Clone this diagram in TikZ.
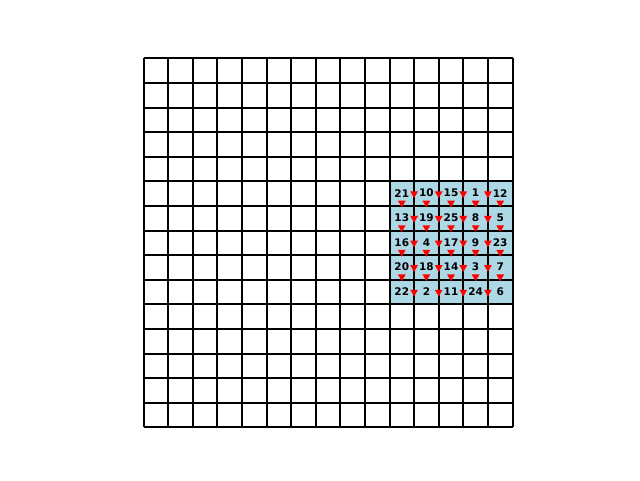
\documentclass[tikz,border=0pt]{standalone}
\usepackage{fontspec}
\setmainfont{DejaVu Sans}
\usetikzlibrary{shapes.geometric}
\definecolor{cellblue}{RGB}{173,216,230}
\tikzset{
  gridline/.style={line width=2pt, black},
  marker/.style={regular polygon, regular polygon sides=3, shape border rotate=180,
                 fill=red, draw=none, inner sep=0pt, minimum size=9pt},
  numlabel/.style={font=\fontsize{10.5}{12}\selectfont\bfseries, inner sep=0pt, text=black}
}
\begin{document}
\begin{tikzpicture}[x=1pt,y=-1pt]
\useasboundingbox (0,0) rectangle (640,480);
\def\xo{143.5}\def\yo{58.3}\def\s{24.6}
% blue region
\fill[cellblue] (\xo+10*\s,\yo+5*\s) rectangle (\xo+15*\s,\yo+10*\s);
% grid
\foreach \i in {0,...,15}{
  \draw[gridline] (\xo+\i*\s,\yo) -- (\xo+\i*\s,\yo+15*\s);
  \draw[gridline] (\xo,\yo+\i*\s) -- (\xo+15*\s,\yo+\i*\s);
}
% markers on vertical lines
\foreach \r in {5,...,9}{
  \foreach \c in {11,...,14}{
    \node[marker] (v-\r-\c) at (\xo+\c*\s,\yo+\r*\s+0.5*\s) {};
  }
}
% markers on horizontal lines
\foreach \r in {6,...,9}{
  \foreach \c in {10,...,14}{
    \node[marker] (h-\r-\c) at (\xo+\c*\s+0.5*\s,\yo+\r*\s-3) {};
  }
}
% numbers
\foreach \row [count=\r from 5] in {{21,10,15,1,12},{13,19,25,8,5},{16,4,17,9,23},{20,18,14,3,7},{22,2,11,24,6}}{
  \foreach \v [count=\c from 10] in \row {
    \node[numlabel] (n-\r-\c) at (\xo+\c*\s+0.5*\s,\yo+\r*\s+0.5*\s-0.5) {\v};
  }
}
\end{tikzpicture}
\end{document}
